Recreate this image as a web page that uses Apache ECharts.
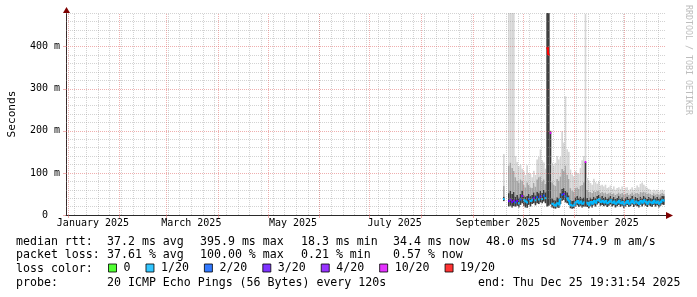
<!DOCTYPE html>
<html><head><meta charset="utf-8">
<script src="https://cdn.jsdelivr.net/npm/echarts@6/dist/echarts.min.js"></script>
<style>html,body{margin:0;padding:0;background:#fff}#c{width:697px;height:297px}</style>
</head><body><div id="c"></div>
<script>
const DAY = 86400000;
const rangeEnd = Date.UTC(2025, 11, 25, 19, 31, 54);
const rangeStart = rangeEnd - 360 * DAY;
const firstSample = Date.UTC(2025, 8, 19, 12, 0, 0); // one sample per day from here

// median RTT per day (ms)
const medianRtt = [38,null,null,33,36,31,34,30,33,28,37,45,35,32,30,38,33,36,40,35,
  42,37,44,38,46,40,396,381,195,27,24,22,28,25,38,48,50,44,40,34,
  24,22,23,30,33,28,32,27,30,126,29,24,31,27,33,29,35,38,31,34,
  30,33,28,31,35,29,32,27,30,34,28,31,25,29,33,27,30,35,28,32,
  30,26,33,29,35,31,27,32,30,28,34,29,32,27,31,35,34];
// lost pings out of 20 per day
const lossCount = [1,null,null,3,4,3,4,2,3,1,2,4,1,1,1,2,1,1,3,1,
  2,1,3,1,2,1,19,19,10,1,1,1,1,1,1,2,3,2,1,1,
  1,1,1,1,1,1,1,1,1,10,1,1,1,1,1,1,1,1,1,1,
  1,1,1,1,1,1,1,1,1,1,1,1,1,1,1,1,1,1,1,1,
  1,1,1,1,1,1,1,1,1,1,1,1,1,1,1,1,1];
// smoke: lowest ping, top of dark band, top of mid band, highest ping (ms)
const smokeMin = [33,null,null,20,22,18,21,20,22,18,24,28,22,18,17,24,20,26,28,23,
  28,26,30,28,32,28,20,22,25,18,16,15,18,17,26,34,36,30,28,24,
  16,15,16,20,23,19,22,18,20,20,19,16,21,18,23,20,25,28,22,24,
  21,23,19,22,25,20,23,18,21,24,19,22,17,20,24,19,21,25,19,23,
  21,18,24,20,25,22,19,23,21,19,24,20,23,18,22,25,24];
const smokeDark = [44,null,null,52,58,50,55,44,48,42,50,58,47,44,45,50,45,48,54,47,
  56,52,58,52,60,54,480,480,200,40,37,35,42,40,52,62,64,58,54,47,
  36,34,35,42,45,40,44,40,42,126,41,36,42,38,44,40,46,48,42,45,
  41,44,39,42,46,40,43,38,41,45,39,42,36,40,44,38,41,46,39,43,
  41,37,44,40,46,42,38,43,41,39,45,40,43,38,42,46,45];
const smokeMid = [70,null,null,118,125,112,105,90,82,76,85,82,72,66,78,72,66,64,76,68,
  85,90,92,80,85,74,480,480,200,78,72,70,86,82,92,110,105,118,96,86,
  64,58,56,64,66,62,70,72,78,126,60,56,55,53,57,55,57,58,53,55,
  52,54,50,52,54,50,52,48,51,54,50,52,48,50,53,48,51,54,49,52,
  52,50,55,54,56,54,51,52,50,48,52,49,51,48,50,52,51];
const smokeMax = [145,null,null,480,480,480,480,140,126,116,120,110,104,95,118,100,98,90,105,95,
  132,138,156,130,125,110,480,480,200,124,118,124,140,132,138,199,172,282,156,150,
  108,96,92,104,100,98,112,130,140,478,88,82,76,72,86,78,74,80,70,72,
  68,72,64,66,70,62,68,60,64,66,62,68,60,65,66,58,62,66,60,64,
  70,66,74,77,72,68,65,62,60,56,60,58,60,56,58,60,58];

const lossLevels = [0, 1, 2, 3, 4, 10, 19];
const lossNames = ['0', '1/20', '2/20', '3/20', '4/20', '10/20', '19/20'];
const lossColors = ['#26ff00', '#00b8ff', '#0059ff', '#5e00ff', '#7e00ff', '#dd00ff', '#ff0000'];

const xLabelDates = [Date.UTC(2025,0,16), Date.UTC(2025,2,16), Date.UTC(2025,4,16),
  Date.UTC(2025,6,16), Date.UTC(2025,8,16), Date.UTC(2025,10,16)];
const xLabels = ['January 2025', 'March 2025', 'May 2025', 'July 2025', 'September 2025', 'November 2025'];
const yTickValues = [0, 100, 200, 300, 400];
const yTickLabels = ['0', '100 m', '200 m', '300 m', '400 m'];

const statsRtt = ['median rtt:', '37.2 ms avg', '395.9 ms max', '18.3 ms min', '34.4 ms now', '48.0 ms sd', '774.9 m am/s'];
const statsLoss = ['packet loss:', '37.61 % avg', '100.00 % max', '0.21 % min', '0.57 % now'];
const probeText = ['probe:', '20 ICMP Echo Pings (56 Bytes) every 120s'];
const endText = 'end: Thu Dec 25 19:31:54 2025';

// ---- derived tables ----
function lossClass(c) { let k = 0; for (let j = 0; j < lossLevels.length; j++) if (c >= lossLevels[j]) k = j; return k; }
const smokeData = [], medData = [];
for (let i = 0; i < medianRtt.length; i++) {
  if (medianRtt[i] == null) continue;
  const t = firstSample + i * DAY;
  smokeData.push([t, smokeMin[i], smokeDark[i], smokeMid[i], smokeMax[i]]);
  const hasNext = i + 1 < medianRtt.length && medianRtt[i + 1] != null;
  const cls = lossClass(lossCount[i]);
  const same = hasNext && lossClass(lossCount[i + 1]) === cls;
  medData.push([t, medianRtt[i], cls, same ? medianRtt[i + 1] : medianRtt[i], same ? 1 : 0]);
}
const MINOR = 'rgba(150,150,150,0.42)';
const MAJOR = 'rgba(225,110,110,0.55)';
// calendar grid: Sundays (minor) and month starts (major); horizontal every 20 m (minor), 100 m (major)
const gridLines = [];
for (let t = Date.UTC(2025, 0, 5); t < rangeEnd; t += 7 * DAY) {
  gridLines.push({ xAxis: t, lineStyle: { color: MINOR, type: [1, 1], width: 1 } });
}
for (let v = 20; v <= 480; v += 20) {
  if (v % 100 !== 0) gridLines.push({ yAxis: v, lineStyle: { color: MINOR, type: [1, 1], width: 1 } });
}
const monthStarts = [];
for (let m = 0; m < 12; m++) monthStarts.push(Date.UTC(2025, m, 1));
monthStarts.forEach(t => gridLines.push({ xAxis: t, lineStyle: { color: MAJOR, type: [1, 1], width: 1 } }));
yTickValues.slice(1).forEach(v => gridLines.push({ yAxis: v, lineStyle: { color: MAJOR, type: [1, 1], width: 1 } }));

const MONO = 'DejaVu Sans Mono';
const chart = echarts.init(document.getElementById('c'), null, { renderer: 'canvas' });

const textRow = (arr, xs, y) => arr.map((s, k) => ({
  type: 'text', x: xs[k], y: y, style: { text: s, font: '11.6px "DejaVu Sans Mono"', fill: '#000', textVerticalAlign: 'middle' }
}));
const colX = [16, 107, 200, 301, 393, 486, 572];

const series = [
  {
    type: 'line', name: '_grid', data: [], z: 1, silent: true,
    markLine: { silent: true, symbol: 'none', label: { show: false }, animation: false, data: gridLines }
  },
  {
    type: 'custom', name: 'smoke', z: 2, clip: true, silent: true,
    encode: { x: 0, y: [1, 2, 3, 4] },
    data: smokeData,
    renderItem(params, api) {
      const t = api.value(0);
      const xa = api.coord([t - DAY / 2, 0])[0];
      const xb = api.coord([t + DAY / 2, 0])[0];
      const ys = [1, 2, 3, 4].map(d => api.coord([t, api.value(d)])[1]);
      const fills = ['#3c3c3c', '#a6a6a6', '#d6d6d6'];
      const children = [];
      for (let k = 0; k < 3; k++) {
        if (ys[k] > ys[k + 1]) children.push({ type: 'rect', shape: { x: xa, y: ys[k + 1], width: xb - xa, height: ys[k] - ys[k + 1] }, style: { fill: fills[k] } });
      }
      return { type: 'group', children };
    }
  },
  {
    type: 'custom', name: 'median', z: 3, clip: true, silent: true,
    encode: { x: 0, y: [1, 3] },
    data: medData,
    renderItem(params, api) {
      const t = api.value(0);
      const xa = api.coord([t - DAY / 2, 0])[0];
      const xb = api.coord([t + DAY / 2, 0])[0];
      const y = api.coord([t, api.value(1)])[1];
      const yn = api.coord([t, api.value(3)])[1];
      const pts = [[xa, y], [xb, y]];
      if (api.value(4) === 1) pts.push([xb, yn]);
      return { type: 'polyline', shape: { points: pts }, style: { stroke: lossColors[api.value(2)], lineWidth: 2, fill: null } };
    }
  }
];
lossNames.forEach((n, k) => series.push({ type: 'scatter', name: n, data: [], itemStyle: { color: lossColors[k] } }));

chart.setOption({
  animation: false,
  backgroundColor: '#ffffff',
  grid: { left: 66, top: 13, right: 31, bottom: 82, containLabel: false, outerBoundsMode: 'none' },
  xAxis: {
    type: 'value', min: rangeStart, max: rangeEnd,
    axisLine: { show: true, lineStyle: { color: '#2a2a2a', width: 1 } },
    axisTick: { show: true, customValues: monthStarts, length: 3, lineStyle: { color: MAJOR } },
    splitLine: { show: false },
    axisLabel: {
      customValues: xLabelDates, margin: 3, fontFamily: MONO, fontSize: 10, color: '#000',
      formatter: v => { const k = xLabelDates.indexOf(v); return k >= 0 ? xLabels[k] : ''; }
    }
  },
  yAxis: {
    type: 'value', min: 0, max: 480, interval: 20,
    name: 'Seconds', nameLocation: 'middle', nameRotate: 90, nameGap: 48,
    nameTextStyle: { fontFamily: MONO, fontSize: 11.2, color: '#000' },
    axisLine: { show: true, lineStyle: { color: '#3a2a2a', width: 1 } },
    axisTick: { show: true, customValues: yTickValues, length: 3, lineStyle: { color: MAJOR } },
    splitLine: { show: false },
    axisLabel: {
      customValues: yTickValues, align: 'center', margin: 21, fontFamily: MONO, fontSize: 10, color: '#000',
      formatter: v => { const k = yTickValues.indexOf(v); return k >= 0 ? yTickLabels[k] : ''; }
    }
  },
  legend: {
    data: lossNames, left: 108, top: 262, padding: 0, icon: 'rect', itemWidth: 8, itemHeight: 8, itemGap: 15,
    selectedMode: false,
    itemStyle: { borderColor: '#000', borderWidth: 1 },
    textStyle: { fontFamily: MONO, fontSize: 11.6, color: '#000', padding: [0, 0, 0, 2] }
  },
  graphic: [
    { type: 'polygon', shape: { points: [[666, 212], [673, 215.5], [666, 219]] }, style: { fill: '#7f0000' }, z: 10 },
    { type: 'polygon', shape: { points: [[63, 13], [66.5, 7], [70, 13]] }, style: { fill: '#7f0000' }, z: 10 },
    { type: 'text', x: 688, y: 60, rotation: -Math.PI / 2,
      style: { text: 'RRDTOOL / TOBI OETIKER', font: '8.3px "DejaVu Sans Mono"', fill: '#bdbdbd', textAlign: 'center', textVerticalAlign: 'middle' } },
    ...textRow(statsRtt, colX, 241.5),
    ...textRow(statsLoss, colX, 255.2),
    ...textRow(['loss color:'], colX, 269),
    ...textRow(probeText, colX, 282.7),
    { type: 'text', x: 478, y: 282.7, style: { text: endText, font: '11.6px "DejaVu Sans Mono"', fill: '#000', textVerticalAlign: 'middle' } }
  ],
  series
});
</script>
</body></html>
